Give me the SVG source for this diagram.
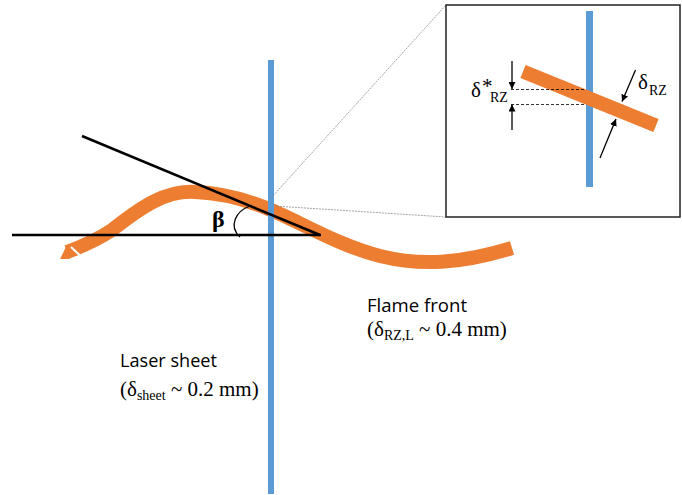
<svg xmlns="http://www.w3.org/2000/svg" width="682" height="495" viewBox="0 0 682 495">
<defs>
<style>
.blue{stroke:#5B9BD5;fill:none}
.orange{stroke:#ED7D31;fill:none}
.blk{stroke:#000;stroke-width:2.5;fill:none}
.thin{stroke:#000;stroke-width:1.3;fill:none}
.guide{stroke:#8c8c8c;stroke-width:0.8;fill:none;stroke-dasharray:2 1}
.dash{stroke:#000;stroke-width:0.8;fill:none;stroke-dasharray:3 2}
.sans{font-family:'Open Sans','Noto Sans','Liberation Sans',sans-serif;font-size:19px;fill:#000}
.serif{font-family:'Liberation Serif','DejaVu Serif',serif;font-size:21px;fill:#000}
.sub{font-size:14px}
</style>
<marker id="ah" viewBox="0 0 10 10" refX="10" refY="5" markerWidth="7" markerHeight="7" markerUnits="userSpaceOnUse" orient="auto">
<path d="M0,0 L10,5 L0,10 z" fill="#000"/>
</marker>
</defs>
<rect width="682" height="495" fill="#fff"/>

<g id="flame-front">
<path class="orange" stroke-width="14" d="M67,252 C86,245 100,238 112,230 C140,208 165,190 195,192 C225,193 250,201 271,210 C300,222 340,246 380,256 C420,266 460,264 512,248"/>
<path d="M60,259 L67,245 L70,259 z" fill="#ED7D31"/>
<line x1="71" y1="247" x2="79.5" y2="255" stroke="#fff" stroke-width="2"/>
</g>

<g id="laser-sheet">
<line class="blue" stroke-width="6" x1="271" y1="60" x2="271" y2="494"/>
</g>

<g id="angle">
<line class="blk" x1="12" y1="235" x2="321" y2="235"/>
<line class="blk" x1="82" y1="136" x2="320" y2="235"/>
<path class="thin" d="M250,206 C236,211 228,226 240,237"/>
<text x="212" y="227" font-family="'Liberation Serif',serif" font-size="24" font-weight="bold">β</text>
</g>

<g id="connectors">
<line class="guide" x1="271" y1="198" x2="446" y2="5"/>
<line class="guide" x1="274" y1="206" x2="446" y2="217"/>
</g>

<g id="inset">
<rect x="446" y="5" width="234" height="212" fill="#fff" stroke="#222" stroke-width="1.5"/>
<line class="blue" stroke-width="7" x1="589.5" y1="11" x2="589.5" y2="187"/>
<line class="orange" stroke-width="14" x1="523" y1="71.5" x2="656" y2="125.5"/>
<line class="dash" x1="511" y1="89.5" x2="586" y2="89.5"/>
<line class="dash" x1="511" y1="104.5" x2="586" y2="104.5"/>
<line class="thin" x1="512" y1="61" x2="512" y2="89" marker-end="url(#ah)"/>
<line class="thin" x1="512" y1="130" x2="512" y2="104.5" marker-end="url(#ah)"/>
<line class="thin" x1="635.5" y1="70" x2="622" y2="101.5" marker-end="url(#ah)"/>
<line class="thin" x1="600" y1="158" x2="616" y2="119" marker-end="url(#ah)"/>
<text class="serif" x="471" y="97">δ</text>
<text class="serif" x="482" y="93" font-size="15">*</text>
<text class="serif sub" x="490" y="102">RZ</text>
<text class="serif" x="638" y="89">δ</text>
<text class="serif sub" x="649" y="95">RZ</text>
</g>

<g id="label-laser">
<text class="sans" x="120" y="367" textLength="97" lengthAdjust="spacingAndGlyphs">Laser sheet</text>
<text class="serif" x="120" y="396">(δ<tspan class="sub" dy="4">sheet</tspan><tspan dy="-4"> ~ 0.2 mm)</tspan></text>
</g>

<g id="label-flame">
<text class="sans" x="367" y="312" textLength="100" lengthAdjust="spacingAndGlyphs">Flame front</text>
<text class="serif" x="367" y="336">(δ<tspan class="sub" dy="4">RZ,L</tspan><tspan dy="-4"> ~ 0.4 mm)</tspan></text>
</g>
</svg>
